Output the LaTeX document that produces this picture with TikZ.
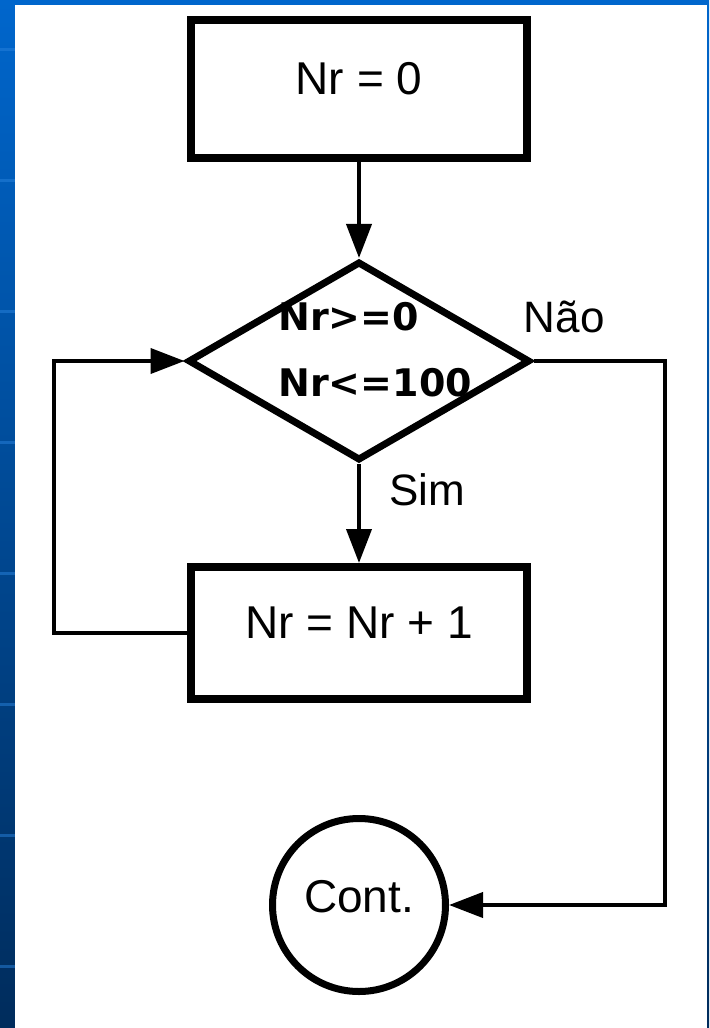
\documentclass[tikz,border=0pt]{standalone}
\usepackage{fontspec}
\setmainfont{Liberation Sans}
\newfontfamily\condfont{DejaVu Sans}
\usetikzlibrary{arrows.meta, positioning, shapes.geometric}
\definecolor{slidetop}{RGB}{0,102,204}
\definecolor{slidebot}{RGB}{0,44,92}
\definecolor{slideline}{RGB}{40,130,220}

\begin{document}
\begin{tikzpicture}[
  x=0.5pt, y=-0.5pt,
  box/.style={draw, line width=4pt, minimum width=168pt, minimum height=66pt,
              inner sep=0pt, text height=16.5pt, text depth=11pt,
              font=\fontsize{23}{26}\selectfont},
  test/.style={draw, diamond, line width=3.5pt, minimum width=171pt,
               minimum height=99.5pt, inner sep=0pt},
  endcirc/.style={draw, circle, line width=3.5pt, minimum size=86.5pt,
                  inner sep=0pt, text height=16.5pt, text depth=9.5pt,
                  font=\fontsize{23}{26}\selectfont},
  cond/.style={inner sep=0pt, align=left, font=\condfont\bfseries\fontsize{19}{33}\selectfont},
  lbl/.style={inner sep=0pt, font=\fontsize{22}{24}\selectfont},
  arr/.style={-{Triangle[length=17pt, width=12.5pt]}, line width=2pt}
]
% slide frame
\useasboundingbox (0,0) rectangle (709,1028);
\fill[top color=slidetop, bottom color=slidebot] (0,0) rectangle (709,1028);
\foreach \y in {48,179,310,441,572,703,834,965}
  \fill[slideline, opacity=0.5] (0,\y) rectangle (15,\y+3);
\fill[white] (15,5) rectangle (707,1028);

\node[box, minimum height=69pt] (start) at (359,89) {Nr = 0};
\node[test, below=48pt of start] (test) {};
\node[cond, anchor=north west] (cond) at ([xshift=-40.5pt, yshift=29.5pt]test.center)
      {Nr>=0\\Nr<=100};
\node[box, below=49.5pt of test] (inc) {Nr = Nr + 1};
\node[endcirc, below=56pt of inc] (cont) {Cont.};
\node[lbl, anchor=base west] (nao) at ([xshift=-5pt, yshift=14.5pt]test.east) {Não};
\node[lbl, anchor=base west] (sim) at ([xshift=15pt, yshift=-20.5pt]test.south) {Sim};

\draw[arr] (start) -- (test);
\draw[arr] (test) -- (inc);
\draw[arr] (inc.west) -- ++(-66.75pt,0) |- (test.west);
\draw[arr] (test.east) -- ++(65.5pt,0) |- (cont.east);
\end{tikzpicture}
\end{document}
